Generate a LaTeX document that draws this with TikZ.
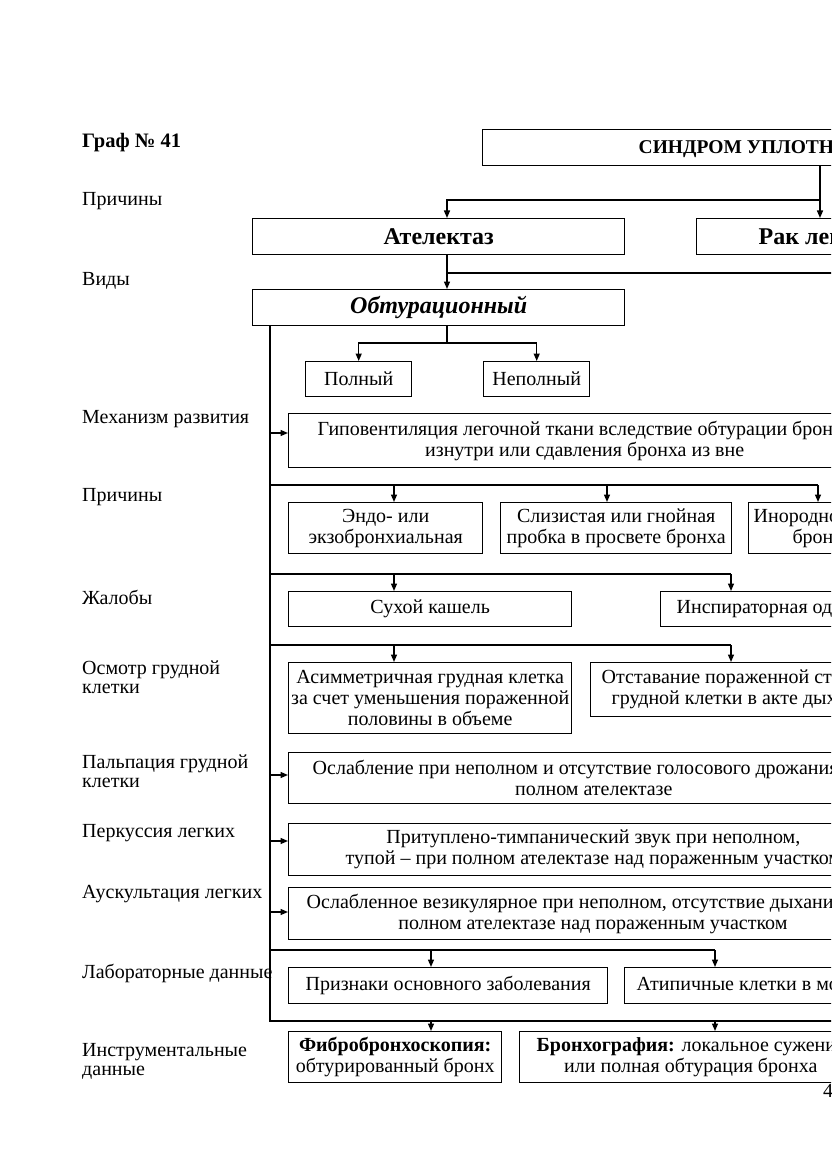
\documentclass[tikz,border=0pt]{standalone}
\usepackage{fontspec}
\setmainfont{Liberation Serif}
\usetikzlibrary{arrows.meta,calc}
\newcommand\bodyf{\fontsize{20}{21}\selectfont}
\newcommand\lblf{\fontsize{20}{19}\selectfont}
\newcommand\headf{\fontsize{24}{26}\selectfont\bfseries}
\newcommand\topf{\fontsize{19.5}{22}\selectfont\bfseries}
\begin{document}
\begin{tikzpicture}[x=1pt,y=-1pt,
  bx/.style={draw, line width=1.4pt, inner sep=0pt, align=center, font=\bodyf},
  nw/.style={bx, anchor=north west},
  lbl/.style={anchor=west, align=left, inner sep=0pt, font=\lblf},
  ln/.style={line width=1.4pt},
  arr/.style={line width=1.4pt, -{Triangle[length=7.5pt,width=6pt]}}]
\useasboundingbox (0,0) rectangle (831,1174);
\fill[white] (0,0) rectangle (831,1174);
\clip (0,0) rectangle (831,1174);

% left labels
\node[lbl, font=\fontsize{20.5}{22}\selectfont\bfseries] (t0) at (82,143) {Граф № 41};
\node[lbl] (l1) at (82,201) {Причины};
\node[lbl] (l2) at (82,281) {Виды};
\node[lbl] (l3) at (82,419) {Механизм развития};
\node[lbl] (l4) at (82,497) {Причины};
\node[lbl] (l5) at (82,597) {Жалобы};
\node[lbl] (l6) at (82,677) {Осмотр грудной\\клетки};
\node[lbl] (l7) at (82,771) {Пальпация грудной\\клетки};
\node[lbl] (l8) at (82,833) {Перкуссия легких};
\node[lbl] (l9) at (82,894) {Аускультация легких};
\node[lbl] (l10) at (82,973) {Лабораторные данные};
\node[lbl] (l11) at (82,1061) {Инструментальные\\данные};

% boxes
\node[nw, minimum height=36pt, inner xsep=156pt, font=\topf] (top) at (482,129) {СИНДРОМ УПЛОТНЕНИЯ ЛЕГОЧНОЙ ТКАНИ};
\node[nw, minimum width=372pt, minimum height=36pt, font=\headf] (atel) at (252,218) {Ателектаз};
\node[nw, minimum height=36pt, inner xsep=62pt, font=\headf] (rak) at (696,218) {Рак легкого};
\node[nw, minimum width=372pt, minimum height=36pt, font=\headf\itshape] (obt) at (252,289) {Обтурационный};
\node[nw, minimum width=106pt, minimum height=35pt] (poln) at (305,361) {Полный};
\node[nw, minimum width=106pt, minimum height=35pt] (nepoln) at (483,361) {Неполный};
\node[nw, minimum height=54pt, inner xsep=29pt] (gipo) at (288,413) {Гиповентиляция легочной ткани вследствие обтурации бронха\\изнутри или сдавления бронха из вне};
\node[nw, minimum width=194pt, minimum height=51pt] (endo) at (288,502) {Эндо- или\\экзобронхиальная};
\node[nw, minimum width=231pt, minimum height=51pt] (sliz) at (500,502) {Слизистая или гнойная\\пробка в просвете бронха};
\node[nw, minimum height=51pt, inner xsep=5pt] (inor) at (748,502) {Инородное тело\\бронха};
\node[nw, minimum width=283pt, minimum height=35pt] (suh) at (288,591) {Сухой кашель};
\node[nw, minimum height=35pt, inner xsep=16pt] (insp) at (660,591) {Инспираторная одышка};
\node[nw, minimum width=283pt, minimum height=71pt] (asim) at (288,662) {Асимметричная грудная клетка\\за счет уменьшения пораженной\\половины в объеме};
\node[nw, minimum height=54pt, inner xsep=11pt] (otst) at (590,662) {Отставание пораженной стороны\\грудной клетки в акте дыхания};
\node[nw, minimum height=51pt, inner xsep=24pt] (oslab) at (288,752) {Ослабление при неполном и отсутствие голосового дрожания при\\полном ателектазе};
\node[nw, minimum height=52pt, inner xsep=57pt] (prit) at (288,823) {Притуплено-тимпанический звук при неполном,\\тупой – при полном ателектазе над пораженным участком};
\node[nw, minimum height=52pt, inner xsep=18pt] (oslv) at (288,887) {Ослабленное везикулярное при неполном, отсутствие дыхания при\\полном ателектазе над пораженным участком};
\node[nw, minimum width=319pt, minimum height=36pt] (prizn) at (288,967) {Признаки основного заболевания};
\node[nw, minimum height=36pt, inner xsep=12pt] (atip) at (624,967) {Атипичные клетки в мокроте};
\node[nw, minimum width=213pt, minimum height=51pt] (fibro) at (288,1031) {\textbf{Фибробронхоскопия:}\\обтурированный бронх};
\node[nw, minimum height=51pt, inner xsep=17pt] (bronh) at (519,1031) {\textbf{Бронхография:} локальное сужение\\или полная обтурация бронха};
\node[anchor=north west, inner sep=0pt, font=\bodyf] (pg) at (823,1084) {41};

% connectors top
\coordinate (j1) at (820,200);
\coordinate (j2) at (447,200);
\draw[arr] (top.south -| j1) -- (rak.north -| j1);
\draw[arr] (j1) -- (j2) -- (atel.north -| j2);
\coordinate (j3) at (447,273);
\coordinate (j3e) at (900,273);
\draw[arr] (atel.south -| j3) -- (obt.north -| j3);
\draw[ln] (j3) -- (j3e);
\coordinate (j4) at (447,343);
\draw[ln] (obt.south -| j4) -- (j4);
\draw[arr] (j4) -| (poln.north);
\draw[arr] (j4) -| (nepoln.north);

% spine
\coordinate (sp) at (270,1021);
\coordinate (spe) at (900,1021);
\draw[ln] (obt.south -| sp) -- (sp) -- (spe);

% side arrows
\coordinate (a1) at (270,433);
\coordinate (a2) at (270,775);
\coordinate (a3) at (270,841);
\coordinate (a4) at (270,912);
\draw[arr] (a1) -- (a1 -| gipo.west);
\draw[arr] (a2) -- (a2 -| oslab.west);
\draw[arr] (a3) -- (a3 -| prit.west);
\draw[arr] (a4) -- (a4 -| oslv.west);

% branch rows
\coordinate (r1a) at (394,485); \coordinate (r1b) at (607,485); \coordinate (r1c) at (818,485);
\draw[ln] (r1a -| sp) -- (r1c);
\draw[arr] (r1a) -- (r1a |- endo.north);
\draw[arr] (r1b) -- (r1b |- sliz.north);
\draw[arr] (r1c) -- (r1c |- inor.north);

\coordinate (r2a) at (394,574); \coordinate (r2b) at (731,574);
\draw[ln] (r2a -| sp) -- (r2b);
\draw[arr] (r2a) -- (r2a |- suh.north);
\draw[arr] (r2b) -- (r2b |- insp.north);

\coordinate (r3a) at (394,645); \coordinate (r3b) at (731,645);
\draw[ln] (r3a -| sp) -- (r3b);
\draw[arr] (r3a) -- (r3a |- asim.north);
\draw[arr] (r3b) -- (r3b |- otst.north);

\coordinate (r4a) at (431,950); \coordinate (r4b) at (715,950);
\draw[ln] (r4a -| sp) -- (r4b);
\draw[arr] (r4a) -- (r4a |- prizn.north);
\draw[arr] (r4b) -- (r4b |- atip.north);

\coordinate (r5a) at (431,1021); \coordinate (r5b) at (715,1021);
\draw[arr] (r5a) -- (r5a |- fibro.north);
\draw[arr] (r5b) -- (r5b |- bronh.north);
\end{tikzpicture}
\end{document}
